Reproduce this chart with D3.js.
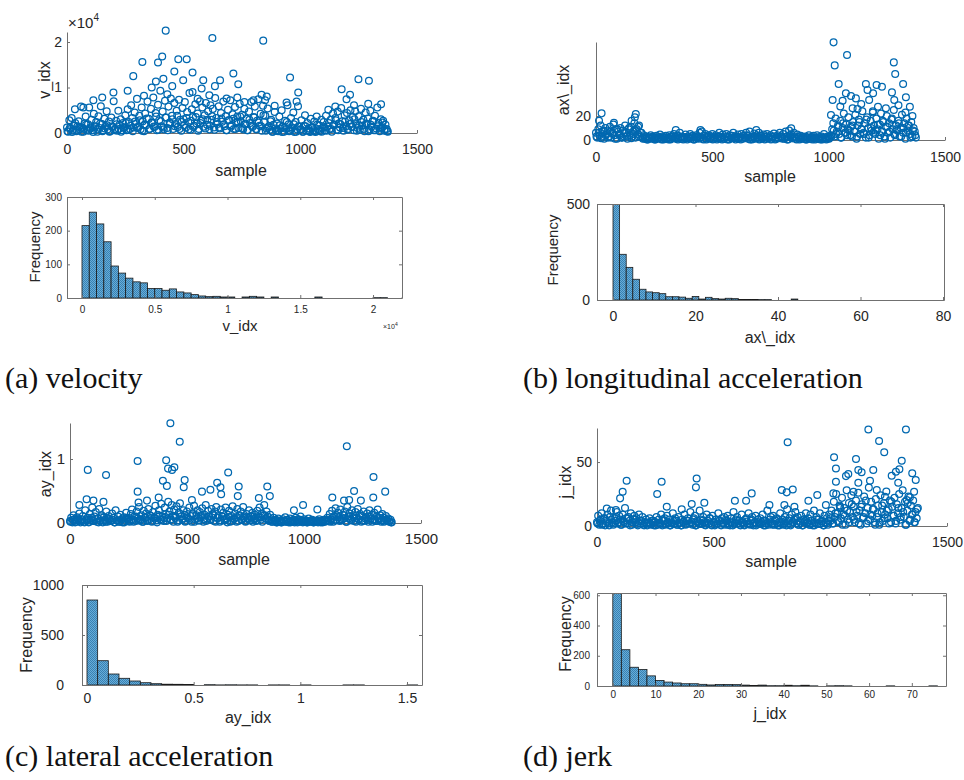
<!DOCTYPE html>
<html>
<head>
<meta charset="utf-8">
<script src="https://cdn.jsdelivr.net/npm/d3@7"></script>
<style>
body{margin:0;background:#fff}
text{font-family:"Liberation Sans",Arial,sans-serif;fill:#262626}
</style>
</head>
<body>
<div id="fig"></div>
<script>
// scatter values: one reading every `step` samples, a second lower reading every `lowStep` samples,
// plus the isolated outliers as [sample, value]
var step = 5
var lowStep = 10, lowOffset = 2
var vBand = [1200,300,2800,900,3300,500,1700,2200,400,1500,
2600,800,5800,1200,300,2100,3600,700,1900,5600,
1000,2900,600,4200,1400,2400,300,3700,1100,5900,
2000,600,3100,1500,4800,800,2500,400,3400,1300,
7000,900,2700,500,4900,1800,3000,600,2200,1100,
3900,600,5200,2400,900,6100,3300,1200,4500,2000,
7500,1400,3800,800,5600,2600,400,4300,1700,6900,
3100,900,5300,2200,7800,1300,4400,600,6200,2800,
9300,1500,4700,800,7100,3400,1100,5800,2300,7600,
3800,900,6600,2000,4900,1300,7300,2900,500,5500,
3000,6800,1200,4600,2400,8800,700,5200,3500,1600,
6300,2100,4300,900,7000,2700,5600,1400,3900,6600,
1800,4800,800,6100,2900,5300,1200,7700,3300,2000,
5900,1000,4400,2500,6900,1500,3700,600,5100,2800,
7200,1700,4100,900,5700,2300,3600,1100,6400,2600,
4000,800,5300,1900,3100,600,4700,2200,6800,1300,
3500,5800,900,2700,7400,1600,4200,500,6000,2400,
3800,1000,5400,1500,700,2900,300,1800,4600,600,
2100,400,3600,1000,5000,1400,300,2700,900,6100,
1900,500,3300,1200,4500,200,2400,800,5900,1500,
700,2800,300,1600,3900,500,2200,1000,400,3100,
1300,600,2500,200,3600,900,1700,400,2900,1100,
2400,600,3800,1400,5100,900,2900,300,4300,1800,
3300,700,4700,2100,1200,5500,2600,500,3900,1500,
4400,900,2800,5000,1300,3500,600,4800,2000,1100,
3700,700,5300,1600,2900,400,4500,1900,3200,800,
4900,1400,2600,600,3800,1000,5600,2200,400,3000,
1200,2700,500,1800,900,300]
var vLow = [400,1100,200,1600,700,1300,300,900,1800,500,
1200,200,1500,800,2100,400,1000,1700,300,1400,
600,1900,900,300,1300,2200,700,1600,400,2500,
1100,2800,500,1800,3200,900,2300,1400,3600,700,
2600,1200,3400,600,2000,3000,1500,3800,900,2400,
1700,3300,800,2700,1300,3500,500,2200,3000,1000,
2900,1600,3700,700,2400,1200,3200,1900,600,2800,
1400,3100,900,2500,3600,1100,2000,600,2900,1600,
3400,800,2300,1500,3900,500,1200,2600,300,1000,
600,1700,200,1200,2400,400,900,1900,300,1400,
800,300,1500,600,200,1100,400,1800,700,300,
1300,500,2200,900,1700,2800,600,1900,1100,2500,
700,2000,1400,3000,500,1600,2400,900,2100,400,
1800,2700,600,1500,1000,2300,800,400]
var vPeaks = [[423,22500],[623,20900],[841,20300],[323,15600],[390,15500],[408,16800],[477,16200],[513,16200],
[460,13500],[538,13300],[713,13100],[284,12500],[413,11900],[381,11300],[498,11600],[584,11600],[656,11600],
[634,10300],[734,10700],[451,10300],[363,10000],[956,12200],[991,8900],[1177,9600],[1213,8400],[1198,7400],
[1249,11800],[1294,11500],[1346,6300],[1291,6400],[260,9300],[199,8900],[151,7800],[113,7200],[34,5200],
[70,5600],[538,9000],[577,9800],[799,7200],[849,7200],[834,8400],[856,8000],[730,7800],[684,7600],[941,6700],
[984,6900],[330,8200],[430,8500],[560,7500],[610,8300],[760,6800],[890,6000],[1150,5800],[1230,6100]]

var axBand = [6,2,9,4,12,3,7,1,10,5,
8,3,11,2,6,13,4,9,1,7,
5,10,2,8,3,12,6,1,9,4,
11,3,7,14,2,9,5,12,3,6,
2,4,1,3,0.5,2.5,1.5,4,1,3,
2,0.5,3.5,1.5,2.5,4.5,1,3,0.5,2,
3.5,1,2,4,0.5,3,1.5,5,2.5,1,
4,2,6,1,3,0.5,2.5,4.5,1.5,3,
2,5,1,3.5,0.5,2.5,4,1.5,3,6,
2,7,1,3.5,5,0.5,2.5,4,1.5,3,
5,1,2.5,4,0.5,3,6,1.5,2,4.5,
1,3,5,0.5,2.5,4,1.5,3.5,6,2,
0.5,3,4.5,1.5,2.5,5,1,3.5,2,6,
4,1,7,2.5,0.5,3,5.5,1.5,4,2,
6,1,3.5,2,4.5,0.5,3,5,1.5,2.5,
4,1,3,5.5,0.5,2,4,1.5,6,3,
2,5,1,7,3,0.5,8,2.5,4.5,1.5,
6,3,1,4.5,2,0.5,3.5,1.5,2.5,1,
3,0.5,2,4,1,2.5,0.5,3.5,1.5,2,
4,1,2.5,0.5,3,1.5,5,2,0.5,3,
1.5,2,4,9,14,3,18,7,12,5,
16,2,10,22,6,13,4,19,8,11,
3,15,7,21,1,12,17,5,9,24,
6,14,2,19,10,4,16,8,23,12,
5,18,9,1,13,22,7,15,3,11,
20,6,14,2,17,9,25,4,12,8,
16,3,10,21,6,14,1,18,8,12,
5,15,3,10,7,2]
var axLow = [3,6,1.5,8,4,2,7,5,1,9,
4,2,6,3,10,1.5,5,8,3,6,
1,2,0.5,1.5,2.5,0.5,1,2,0.5,1.5,
2,0.5,1,3,1.5,0.5,2.5,1,2,0.5,
1.5,3,0.5,2,1,2.5,0.5,1.5,3,1,
0.5,2,1.5,3,0.5,1,2.5,0.5,2,1.5,
3,1,0.5,2,1.5,3.5,0.5,2,1,2.5,
0.5,1.5,3,1,2,0.5,2.5,1,1.5,3,
1,2.5,0.5,4,1.5,2,0.5,3,1,2,
0.5,1.5,1,2,0.5,1,2,0.5,1.5,1,
1,3,8,5,11,2,14,6,9,4,
12,7,3,15,9,5,17,2,10,6,
8,13,4,16,1,11,7,18,5,9,
14,3,10,6,12,2,8,4]
var axPeaks = [[1021,81.4],[1079,70.8],[1026,62.2],[1280,64.7],[1286,55],[1043,46.7],[1160,46.7],[1206,45.8],
[1229,44.4],[1320,46.7],[1167,41.7],[1272,39.7],[1074,38.9],[1096,36.7],[1117,34.7],[1191,38.9],[1332,35.6],
[1060,32.8],[1017,33.3],[1174,33.3],[1282,33.3],[1103,26.4],[1124,25.8],[1246,26.4],[1349,27.8],[1360,20],
[1010,20.8],[24,22.2],[171,21.7],[167,18.9],[153,16.1],[13,16.1],[77,14.4],[181,11.1],[449,8.3],[343,8.3],
[689,8.3],[839,9.7],[1212,27.8],[1140,30],[1300,29],[1050,28],[1190,24],[1330,23]]

var ayBand = [0.03,0.08,0.01,0.12,0.05,0.02,0.09,0.04,0.15,0.01,
0.06,0.11,0.02,0.2,0.04,0.08,0.01,0.14,0.05,0.24,
0.03,0.1,0.17,0.02,0.07,0.22,0.04,0.12,0.01,0.09,
0.05,0.18,0.02,0.11,0.06,0.03,0.15,0.08,0.01,0.2,
0.04,0.1,0.02,0.13,0.06,0.01,0.09,0.03,0.16,0.05,
0.08,0.02,0.14,0.21,0.05,0.1,0.03,0.18,0.07,0.25,
0.04,0.12,0.02,0.19,0.08,0.15,0.03,0.22,0.06,0.11,
0.02,0.17,0.09,0.27,0.04,0.13,0.2,0.06,0.3,0.1,
0.03,0.24,0.14,0.07,0.33,0.18,0.05,0.28,0.11,0.21,
0.08,0.26,0.02,0.16,0.31,0.1,0.05,0.2,0.13,0.03,
0.18,0.07,0.24,0.11,0.02,0.15,0.27,0.06,0.12,0.2,
0.04,0.17,0.09,0.23,0.02,0.13,0.28,0.07,0.19,0.1,
0.05,0.22,0.14,0.03,0.18,0.25,0.08,0.12,0.02,0.21,
0.1,0.16,0.04,0.24,0.07,0.13,0.19,0.02,0.11,0.26,
0.06,0.15,0.09,0.22,0.03,0.12,0.18,0.05,0.25,0.1,
0.02,0.14,0.08,0.2,0.04,0.11,0.16,0.06,0.13,0.03,
0.19,0.09,0.24,0.05,0.15,0.12,0.28,0.07,0.18,0.1,
0.04,0.13,0.06,0.02,0.08,0.03,0.05,0.01,0.07,0.02,
0.04,0.01,0.06,0.03,0.09,0.02,0.05,0.01,0.07,0.03,
0.02,0.05,0.01,0.08,0.03,0.06,0.02,0.1,0.04,0.01,
0.06,0.02,0.04,0.01,0.07,0.03,0.02,0.05,0.01,0.03,
0.02,0.04,0.01,0.06,0.02,0.03,0.01,0.05,0.02,0.04,
0.08,0.03,0.14,0.06,0.19,0.02,0.11,0.23,0.05,0.16,
0.09,0.21,0.04,0.13,0.07,0.18,0.02,0.25,0.1,0.15,
0.05,0.2,0.12,0.03,0.17,0.08,0.22,0.06,0.14,0.02,
0.11,0.18,0.04,0.09,0.15,0.02,0.2,0.07,0.13,0.05,
0.16,0.03,0.1,0.21,0.06,0.12,0.02,0.14,0.08,0.04,
0.11,0.03,0.07,0.02,0.05,0.01]
var ayLow = [0.02,0.05,0.01,0.07,0.03,0.04,0.01,0.06,0.02,0.08,
0.03,0.06,0.01,0.09,0.04,0.02,0.07,0.03,0.05,0.01,
0.04,0.02,0.06,0.01,0.08,0.03,0.05,0.02,0.1,0.04,
0.06,0.02,0.09,0.04,0.12,0.03,0.07,0.01,0.11,0.05,
0.08,0.03,0.13,0.06,0.02,0.1,0.04,0.14,0.07,0.02,
0.09,0.05,0.12,0.02,0.07,0.04,0.11,0.06,0.03,0.1,
0.05,0.12,0.02,0.08,0.04,0.1,0.06,0.01,0.09,0.03,
0.07,0.02,0.11,0.05,0.08,0.03,0.06,0.1,0.02,0.07,
0.04,0.09,0.02,0.12,0.06,0.03,0.02,0.04,0.01,0.03,
0.01,0.03,0.02,0.04,0.01,0.02,0.03,0.01,0.05,0.02,
0.03,0.01,0.02,0.04,0.01,0.02,0.03,0.01,0.02,0.03,
0.05,0.02,0.08,0.04,0.1,0.03,0.06,0.12,0.02,0.07,
0.04,0.09,0.02,0.06,0.11,0.03,0.07,0.05,0.1,0.02,
0.06,0.03,0.08,0.04,0.02,0.05,0.03,0.01]
var ayPeaks = [[429,1.56],[469,1.27],[1183,1.2],[289,0.97],[411,0.98],[419,0.85],[436,0.83],[446,0.87],[76,0.83],
[154,0.75],[676,0.79],[1297,0.72],[397,0.66],[490,0.67],[414,0.58],[486,0.56],[629,0.63],[643,0.56],[721,0.57],
[843,0.57],[289,0.49],[564,0.49],[600,0.52],[646,0.45],[717,0.42],[1214,0.5],[1347,0.49],[1296,0.4],[1121,0.4],
[854,0.42],[807,0.39],[379,0.4],[329,0.35],[71,0.37],[40,0.28],[100,0.35],[143,0.33],[521,0.36],[1171,0.35],
[1193,0.36],[1243,0.35],[996,0.28],[957,0.2],[1057,0.21],[293,0.32]]

var jBand = [3,8,1,5,10,2,6,0.5,4,9,
2,7,12,3,1,6,4,11,2,8,
5,1,9,3,14,6,2,7,4,10,
1,5,8,3,6,0.5,9,2,4,7,
1,3,5,0.5,2,6,1.5,4,2.5,0.5,
3,7,1,5,2,9,0.5,4,6,1.5,
8,2,5,0.5,3,10,1.5,6,4,1,
7,2.5,0.5,5,3,9,1,4,6,2,
11,3,1,6,8,0.5,4,2,12,5,
1.5,7,3,0.5,9,4,2,6,1,8,
3,0.5,5,2,10,4,1,6,2.5,7,
1,4,8,2,0.5,6,3,11,1.5,5,
7,2,4,0.5,9,3,1,5,6,2,
10,1,4,7,0.5,3,8,2,5,1.5,
6,3,9,0.5,4,2,12,1,5,7,
2,8,1,4,6,0.5,3,10,2,5,
1,7,4,13,2,6,0.5,9,3,5,
11,2,7,1,4,8,0.5,5,3,10,
2,6,1,9,4,0.5,12,3,7,1.5,
5,10,2,4,0.5,8,3,6,1,9,
4,12,2,19,7,25,10,3,16,6,
22,9,14,1,28,5,18,11,24,7,
15,3,20,8,26,12,1,17,6,23,
10,2,14,30,5,19,8,13,3,21,
7,16,1,24,11,4,18,9,27,6,
13,20,3,15,8,22,2,17,10,25,
5,14,28,7,19,1,12,23,4,16,
9,20,3,11,6,14]
var jLow = [2,4,1,6,3,0.5,5,2,7,3,
1,4,2,6,0.5,3,5,1.5,4,2,
0.5,2,3,1,4,0.5,2.5,1.5,5,1,
3,0.5,2,4,1,2.5,0.5,3.5,1.5,4,
2,5,0.5,3,1.5,4,1,2.5,6,0.5,
3,1.5,4,0.5,2,5,1,3,0.5,2.5,
4,1,2.5,0.5,3.5,1.5,5,2,0.5,3,
1.5,4,0.5,2.5,3,1,5,2,0.5,3.5,
2,0.5,4,1.5,3,6,1,2.5,0.5,4,
3,1,2,0.5,5,1.5,3.5,0.5,2,4,
6,2,10,4,14,1,8,12,3,17,
5,11,2,15,7,20,4,9,13,1,
10,3,16,6,12,2,19,8,4,14,
7,11,1,18,5,9,3,13]
var jPeaks = [[1163,75.5],[1324,75.5],[817,65.4],[1209,66.4],[1231,57.6],[1016,53.7],[1110,52.3],[1306,51],
[1024,45],[1184,43.7],[1120,43.7],[1134,42],[1296,44.3],[1281,42.4],[1077,40.6],[1067,39],[1263,39.3],[1351,41.2],
[1366,35.9],[427,37.2],[424,30.2],[127,35.4],[277,34.6],[1024,34.6],[1120,33.8],[1291,33.8],[1170,35.4],[110,26.8],
[99,21.6],[258,25],[663,25.5],[792,28.1],[839,28.6],[813,26.3],[944,24.2],[906,19.8],[1013,25.5],[591,19.8],
[639,19.8],[460,18.2],[406,17.2],[739,16.4],[803,16.4],[363,13],[299,15.1],[42,13.7],[81,12.5],[846,15.1],
[981,16.4],[1041,15.1],[1327,20.3],[1341,22.4],[1359,26.8],[1234,22.9],[1099,26.8],[1199,28.1]]

// histogram counts (bin start, bin width, counts)
var vBinStart = 0, vBinWidth = 500
var vCounts = [215,255,220,167,95,74,59,48,45,28,28,23,27,18,15,10,6,4,5,3,3,0,3,5,3,0,3,0,0,0,0,0,3,0,0,0,0,0,0,0,1,1,0,0,1]
var axBinStart = 0, axBinWidth = 1.6
var axCounts = [560,238,170,108,56,42,38,33,17,17,15,9,18,5,14,7,5,9,7,3,3,3,2,2,0,0,0,5]
var ayBinStart = 0, ayBinWidth = 0.05
var ayCounts = [850,243,110,67,40,23,13,8,7,6,0,3,1,2,1,1,0,1,1,0,1,0,0,0,1,1,0,0,0,0,1]
var jBinStart = 0, jBinWidth = 2
var jCounts = [700,240,124,109,67,37,26,20,15,15,11,7,10,10,9,6,4,6,2,2,5,2,5,1,0,1,2,1,0,0,0,0,1,0,0,0,0,1]

var sampleTicks = [0,500,1000,1500]
var captions = ['(a) velocity','(b) longitudinal acceleration','(c) lateral acceleration','(d) jerk']

var FONT = '"Liberation Sans",Arial,sans-serif'
var plain = function(d){return String(d)}
var svg = d3.select('#fig').append('svg').attr('width',964).attr('height',780)

var defs = svg.append('defs')
var pat = defs.append('pattern').attr('id','hatch').attr('width',2).attr('height',2).attr('patternUnits','userSpaceOnUse')
pat.append('rect').attr('width',2).attr('height',2).attr('fill','#66aed9')
pat.append('rect').attr('width',1).attr('height',1).attr('fill','#3a80b2')
pat.append('rect').attr('x',1).attr('y',1).attr('width',1).attr('height',1).attr('fill','#3a80b2')

function styleAxis(ax, size){
    ax.attr('font-family',FONT).attr('font-size',size).attr('color','#262626')
    ax.select('.domain').attr('stroke','#707070')
    ax.selectAll('.tick line').attr('stroke','#707070')
}

function scatterPanel(c){
    var x = d3.scaleLinear().domain([0,1500]).range([c.x0,c.x1])
    var y = d3.scaleLinear().domain([0,c.ymax]).range([c.y0,c.y1])
    var pts = c.band.map(function(d,i){return [i*step,d]})
        .concat(c.low.map(function(d,i){return [i*lowStep+lowOffset,d]}))
        .concat(c.peaks)
    var g = svg.append('g')
    var xa = g.append('g').attr('transform','translate(0,'+c.y0+')')
        .call(d3.axisBottom(x).tickValues(sampleTicks).tickSizeInner(-3).tickSizeOuter(0).tickPadding(c.xpad).tickFormat(plain))
    styleAxis(xa, c.tick)
    var ya = g.append('g').attr('transform','translate('+c.x0+',0)')
        .call(d3.axisLeft(y).tickValues(c.yticks).tickSizeInner(-3).tickSizeOuter(0).tickPadding(5)
        .tickFormat(c.yfmt || plain))
    styleAxis(ya, c.tick)
    g.append('g').selectAll('circle').data(pts).enter().append('circle')
        .attr('cx',function(d){return x(d[0])})
        .attr('cy',function(d){return y(d[1])})
        .attr('r',3.4)
        .attr('fill','none')
        .attr('stroke','#0068b0')
        .attr('stroke-width',1.25)
    g.append('text').attr('x',c.x0+174).attr('y',c.xlabY).attr('text-anchor','middle')
        .style('font-size','16px').text('sample')
    g.append('text').attr('transform','translate('+c.ylabX+','+c.ylabY+') rotate(-90)')
        .attr('text-anchor','middle').attr('dy','0.35em').style('font-size','16px').text(c.ylabel)
    return g
}

function histPanel(c){
    var x = d3.scaleLinear().domain(c.xdom).range([c.left,c.right])
    var y = d3.scaleLinear().domain(c.ydom).range([c.bottom,c.top])
    var g = svg.append('g')
    defs.append('clipPath').attr('id','clip'+c.id).append('rect')
        .attr('x',c.left).attr('y',c.top).attr('width',c.right-c.left).attr('height',c.bottom-c.top)
    var bins = c.counts.map(function(n,i){return {i:i,n:n}}).filter(function(d){return d.n>0})
    g.append('g').attr('clip-path','url(#clip'+c.id+')')
        .selectAll('rect').data(bins).enter().append('rect')
        .attr('x',function(d){return x(c.start+d.i*c.width)})
        .attr('width',function(d){return x(c.start+(d.i+1)*c.width)-x(c.start+d.i*c.width)})
        .attr('y',function(d){return y(d.n)})
        .attr('height',function(d){return y(0)-y(d.n)})
        .attr('fill','url(#hatch)')
        .attr('stroke','#1a1a1a')
        .attr('stroke-width',0.8)
    var fmt = c.xfmt || plain
    var xb = g.append('g').attr('transform','translate(0,'+c.bottom+')')
        .call(d3.axisBottom(x).tickValues(c.xticks).tickSizeInner(-3).tickSizeOuter(0).tickPadding(c.xpad).tickFormat(fmt))
    styleAxis(xb, c.tick)
    var xt = g.append('g').attr('transform','translate(0,'+c.top+')')
        .call(d3.axisTop(x).tickValues(c.xticks).tickSizeInner(-3).tickSizeOuter(0).tickFormat(''))
    styleAxis(xt, c.tick)
    var yl = g.append('g').attr('transform','translate('+c.left+',0)')
        .call(d3.axisLeft(y).tickValues(c.yticks).tickSizeInner(-3).tickSizeOuter(0).tickPadding(c.ypad).tickFormat(plain))
    styleAxis(yl, c.tick)
    var yr = g.append('g').attr('transform','translate('+c.right+',0)')
        .call(d3.axisRight(y).tickValues(c.yticks).tickSizeInner(-3).tickSizeOuter(0).tickFormat(''))
    styleAxis(yr, c.tick)
    g.append('text').attr('x',c.xlabX).attr('y',c.xlabY).attr('text-anchor','middle')
        .style('font-size',c.labSize+'px').text(c.xlabel)
    g.append('text').attr('transform','translate('+c.ylabX+','+c.ylabY+') rotate(-90)')
        .attr('text-anchor','middle').attr('dy','0.35em').style('font-size',c.ylabSize+'px').text('Frequency')
    return g
}

// (a) velocity
scatterPanel({band:vBand,low:vLow,peaks:vPeaks,x0:67,x1:417,y0:133,y1:32,ymax:22200,yticks:[0,10000,20000],
    yfmt:function(d){return String(d/1e4)},tick:14,xpad:11,xlabY:176,ylabX:44,ylabY:80,ylabel:'v_idx'})
var e1 = svg.append('text').attr('x',68).attr('y',28).style('font-size','15px')
e1.append('tspan').text('\u00d710')
e1.append('tspan').attr('dy',-7).style('font-size','10px').text('4')
histPanel({id:'a',counts:vCounts,start:vBinStart,width:vBinWidth,left:67,right:402,top:197,bottom:298,
    xdom:[-1030,21990],ydom:[0,300],xticks:[0,5000,10000,15000,20000],yticks:[0,100,200,300],
    xfmt:function(d){return String(d/1e4)},tick:10,xpad:8,ypad:5,xlabel:'v_idx',xlabX:240,xlabY:331,labSize:15,
    ylabX:35,ylabY:247,ylabSize:15})
var e2 = svg.append('text').attr('x',383).attr('y',329).style('font-size','7px')
e2.append('tspan').text('\u00d710')
e2.append('tspan').attr('dy',-3).style('font-size','5px').text('4')

// (b) longitudinal acceleration
scatterPanel({band:axBand,low:axLow,peaks:axPeaks,x0:596,x1:945,y0:140,y1:42,ymax:81.7,yticks:[0,20],
    tick:14,xpad:12,xlabY:182,ylabX:563,ylabY:90,ylabel:'ax\\_idx'})
histPanel({id:'b',counts:axCounts,start:axBinStart,width:axBinWidth,left:597,right:944,top:204,bottom:300,
    xdom:[-3.88,80.24],ydom:[0,500],xticks:[0,20,40,60,80],yticks:[0,500],
    tick:14,xpad:11,ypad:7,xlabel:'ax\\_idx',xlabX:770,xlabY:343,labSize:16,
    ylabX:553,ylabY:250,ylabSize:15})

// (c) lateral acceleration
scatterPanel({band:ayBand,low:ayLow,peaks:ayPeaks,x0:70,x1:421,y0:523,y1:423,ymax:1.5625,yticks:[0,1],
    tick:15,xpad:10,xlabY:565,ylabX:45,ylabY:474,ylabel:'ay_idx'})
histPanel({id:'c',counts:ayCounts,start:ayBinStart,width:ayBinWidth,left:82,right:422,top:585,bottom:685,
    xdom:[-0.0234,1.5703],ydom:[0,1000],xticks:[0,0.5,1,1.5],yticks:[0,500,1000],
    tick:14,xpad:8,ypad:18,xlabel:'ay_idx',xlabX:248,xlabY:723,labSize:16,
    ylabX:26,ylabY:635,ylabSize:16})

// (d) jerk
scatterPanel({band:jBand,low:jLow,peaks:jPeaks,x0:597,x1:947,y0:526,y1:428,ymax:76.6,yticks:[0,50],
    tick:14,xpad:11,xlabY:567,ylabX:565,ylabY:482,ylabel:'j_idx'})
histPanel({id:'d',counts:jCounts,start:jBinStart,width:jBinWidth,left:597,right:946,top:593,bottom:686,
    xdom:[-3.7,78],ydom:[0,615],xticks:[0,10,20,30,40,50,60,70],yticks:[0,200,400,600],
    tick:10,xpad:5,ypad:7,xlabel:'j_idx',xlabX:770,xlabY:719,labSize:16,
    ylabX:565,ylabY:634,ylabSize:16})

// captions
var capPos = [[5,388],[523,388],[5,766],[523,766]]
svg.selectAll('.cap').data(captions).enter().append('text').attr('class','cap')
    .attr('x',function(d,i){return capPos[i][0]})
    .attr('y',function(d,i){return capPos[i][1]})
    .style('font-family','"Liberation Serif","Times New Roman",serif')
    .style('font-size','30px')
    .style('fill','#111')
    .text(function(d){return d})
</script>
</body>
</html>
